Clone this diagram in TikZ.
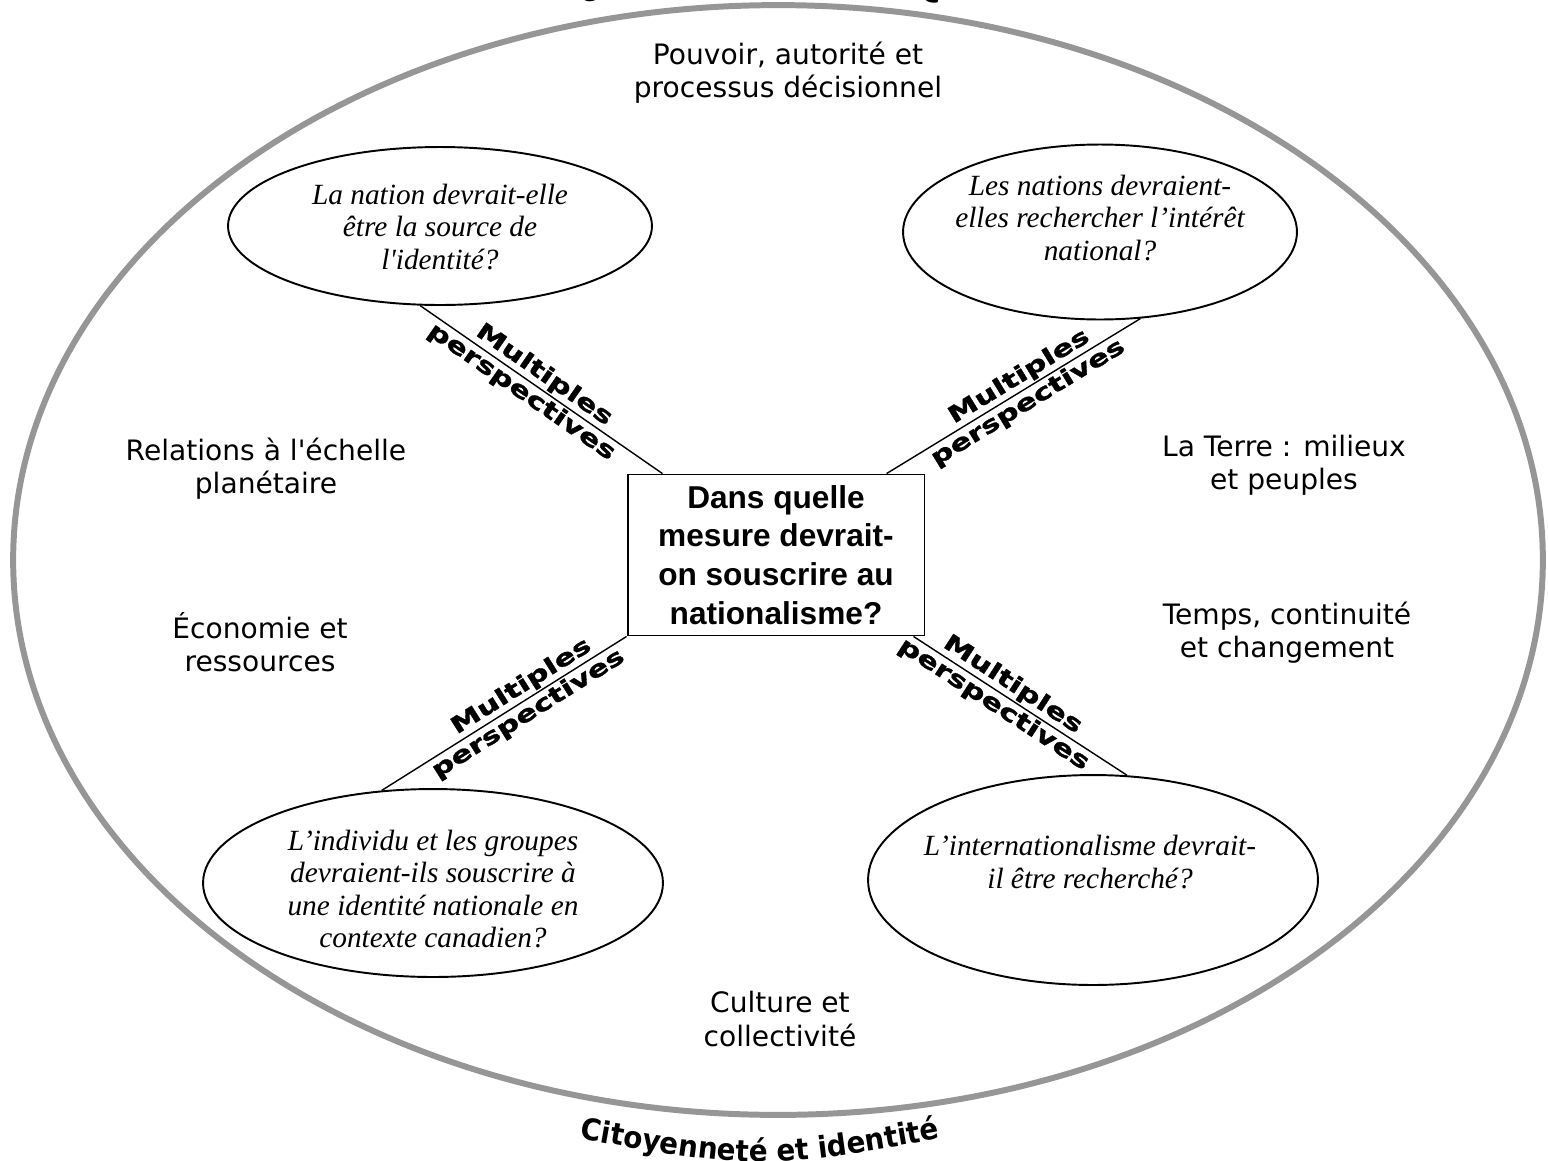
\documentclass[tikz,border=0pt]{standalone}
\usepackage{fontspec}
\usepackage{graphicx}
\usetikzlibrary{shapes.geometric,calc,decorations.text}
\newfontfamily\topicfont[Ligatures=TeXOff]{DejaVu Sans}
\newfontfamily\questfont[Ligatures=TeXOff]{Liberation Serif}
\newfontfamily\boxfont{Liberation Sans}
\newfontfamily\persfont[FakeBold=1.2]{DejaVu Sans Bold}
\newfontfamily\titlefont[FakeStretch=0.93]{DejaVu Sans Bold}
\newcommand\widen[1]{\scalebox{1.35}[1]{#1}}
\begin{document}
\begin{tikzpicture}[x=0.02cm, y=-0.02cm,
    outer/.style={draw=black!41, line width=3.4pt},
    bubble/.style={draw, ellipse, line width=1.1pt, inner sep=0pt},
    question/.style={font=\questfont\itshape\fontsize{16.7}{18.3}\selectfont, align=center},
    topic/.style={font=\topicfont\fontsize{16}{18.8}\selectfont, align=center},
    spoke/.style={line width=0.8pt},
    multi/.style={sloped, inner sep=1pt, font=\persfont\fontsize{13}{15}\selectfont},
    titletext/.style={decorate, decoration={text along path, text align=center,%
      text={|\titlefont\fontsize{17}{17}\selectfont|Citoyenneté et identité}}}]
  \useasboundingbox (0,0) rectangle (1548,1160);
  \clip (0,0) rectangle (1548,1160);
  \draw[outer] (778,560) ellipse [x radius=15.3cm, y radius=11.1cm];
  \path[titletext] (560,8) .. controls (760,-32) .. (960,8);
  \path[titletext] (560,1135) .. controls (760,1171) .. (960,1135);

  \node[topic] (pouvoir) at (788,73) {Pouvoir, autorité et\\processus décisionnel};
  \node[topic] (relations) at (266,469) {Relations à l'échelle\\planétaire};
  \node[topic] (economie) at (260,642) {Économie et\\ressources};
  \node[topic] (terre) at (1284,465) {La Terre : milieux\\et peuples};
  \node[topic] (temps) at (1287,633) {Temps, continuité\\et changement};
  \node[topic] (culture) at (780,1019) {Culture et\\collectivité};

  \node[draw, line width=1.1pt, minimum width=5.94cm, minimum height=3.22cm, align=center,%
    font=\boxfont\bfseries\fontsize{18}{22}\selectfont] (box) at (776,555)%
    {Dans quelle\\mesure devrait-\\on souscrire au\\nationalisme?};

  \node[bubble, minimum width=8.48cm, minimum height=3.16cm] (q1) at (440,226) {};
  \node[question] (q1text) at (440,227) {La nation devrait-elle\\être la source de\\l'identité?};
  \node[bubble, minimum width=7.88cm, minimum height=3.5cm] (q2) at (1100,232) {};
  \node[question] (q2text) at (1100,218) {Les nations devraient-\\elles rechercher l’intérêt\\national?};
  \node[bubble, minimum width=9.2cm, minimum height=3.76cm] (q3) at (433,883) {};
  \node[question] (q3text) at (433,889) {L’individu et les groupes\\devraient-ils souscrire à\\une identité nationale en\\contexte canadien?};
  \node[bubble, minimum width=9cm, minimum height=4.2cm] (q4) at (1093,880) {};
  \node[question] (q4text) at (1090,862) {L’internationalisme devrait-\\il être recherché?};

  \coordinate (tlc) at ($(box.north west)!0.12!(box.north east)$);
  \coordinate (trc) at ($(box.north west)!0.87!(box.north east)$);
  \coordinate (brc) at ($(box.south west)!0.96!(box.south east)$);

  \draw[spoke] (q1.256) -- (tlc) node[multi, pos=.48, above] {\widen{Multiples}}%
    node[multi, pos=.45, below] {\widen{perspectives}};
  \draw[spoke] (trc) -- (q2.295) node[multi, pos=.55, above] {\widen{Multiples}}%
    node[multi, pos=.53, below] {\widen{perspectives}};
  \draw[spoke] (q3.119) -- (box.south west) node[multi, pos=.6, above] {\widen{Multiples}}%
    node[multi, pos=.57, below] {\widen{perspectives}};
  \draw[spoke] (brc) -- (q4.72) node[multi, pos=.43, above] {\widen{Multiples}}%
    node[multi, pos=.41, below] {\widen{perspectives}};
\end{tikzpicture}
\end{document}
